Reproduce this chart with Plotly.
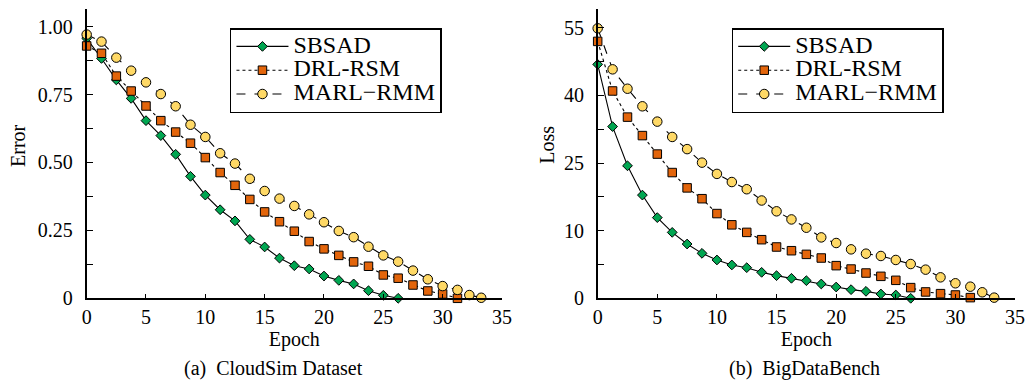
import numpy as np
import plotly.graph_objects as go

# ---------------- data ----------------
EPOCHS = [0, 1.25, 2.5, 3.75, 5, 6.25, 7.5, 8.75, 10, 11.25, 12.5, 13.75, 15, 16.25,
          17.5, 18.75, 20, 21.25, 22.5, 23.75, 25, 26.25, 27.5, 28.75, 30, 31.25, 32.25, 33.25]

SERIES = ["SBSAD", "DRL-RSM", "MARL\u2212RMM"]

SBSAD_ERR = [0.957, 0.883, 0.804, 0.736, 0.654, 0.599, 0.530, 0.449, 0.380, 0.326, 0.285,
             0.217, 0.189, 0.148, 0.120, 0.108, 0.082, 0.066, 0.053, 0.028, 0.011, 0.0]
DRL_ERR = [0.929, 0.902, 0.818, 0.763, 0.708, 0.654, 0.612, 0.571, 0.518, 0.463, 0.416,
           0.364, 0.318, 0.282, 0.247, 0.209, 0.182, 0.158, 0.134, 0.118, 0.086, 0.074,
           0.049, 0.027, 0.016, 0.0]
MARL_ERR = [0.971, 0.945, 0.886, 0.838, 0.795, 0.752, 0.707, 0.639, 0.594, 0.534, 0.496,
            0.440, 0.395, 0.367, 0.340, 0.309, 0.280, 0.248, 0.225, 0.190, 0.158, 0.135,
            0.102, 0.070, 0.045, 0.031, 0.012, 0.002]

SBSAD_LOSS = [46.9, 33.1, 24.4, 17.9, 12.9, 9.75, 8.03, 6.65, 5.67, 4.93, 4.53, 3.84, 3.35,
              2.96, 2.61, 2.12, 1.67, 1.28, 1.03, 0.64, 0.49, 0.0]
DRL_LOSS = [52.0, 41.0, 35.2, 31.1, 27.0, 22.9, 19.5, 17.1, 13.8, 11.3, 9.75, 8.67, 7.59,
            7.04, 6.50, 5.96, 4.83, 4.33, 3.74, 3.25, 2.66, 1.58, 0.94, 0.69, 0.49, 0.1]
MARL_LOSS = [54.9, 45.8, 41.5, 37.6, 34.2, 30.8, 28.1, 25.1, 22.6, 20.8, 19.2, 16.7, 14.3,
             12.5, 10.66, 9.01, 8.18, 7.24, 6.60, 6.26, 5.67, 5.07, 4.24, 3.10, 2.22, 1.72,
             0.89, 0.1]

ERR_TICKS = [0, 0.25, 0.5, 0.75, 1.0]
ERR_TICK_LABELS = ["0", "0.25", "0.50", "0.75", "1.00"]
LOSS_TICKS = [0, 10, 25, 40, 55]          # evenly spaced labels on a piecewise scale
LOSS_TICK_LABELS = ["0", "10", "25", "40", "55"]
X_TICKS = [0, 5, 10, 15, 20, 25, 30, 35]

CAPTIONS = ["(a)\u00a0 CloudSim Dataset", "(b)\u00a0 BigDataBench"]
Y_TITLES = ["Error", "Loss"]
X_TITLE = "Epoch"

# ---------------- styles ----------------
FONT = "Liberation Serif"
COLORS = ["#00A651", "#E3650B", "#FFD966"]
SYMBOLS = ["diamond", "square", "circle"]
SIZES = [7.5, 8.5, 9.5]
DASHES = ["solid", "dot", "dash"]

# piecewise scale for the Loss axis: tick value -> evenly spaced position
LOSS_POS = list(range(len(LOSS_TICKS)))


def loss_scale(v):
    return np.interp(v, LOSS_TICKS, LOSS_POS)


def legend_label(name):
    return "<span style='font-size:24px'>" + name + "</span>"


fig = go.Figure()

left = [SBSAD_ERR, DRL_ERR, MARL_ERR]
right = [SBSAD_LOSS, DRL_LOSS, MARL_LOSS]

for i, name in enumerate(SERIES):
    ys = left[i]
    fig.add_trace(go.Scatter(
        x=EPOCHS[:len(ys)], y=ys, name=legend_label(name), mode="lines+markers",
        line=dict(color="black", width=1.1, dash=DASHES[i]),
        marker=dict(symbol=SYMBOLS[i], size=SIZES[i], color=COLORS[i],
                    line=dict(color="black", width=1)),
        cliponaxis=False, xaxis="x", yaxis="y", legend="legend",
    ))
for i, name in enumerate(SERIES):
    ys = right[i]
    fig.add_trace(go.Scatter(
        x=EPOCHS[:len(ys)], y=loss_scale(ys), name=legend_label(name), mode="lines+markers",
        customdata=ys, hovertemplate="%{customdata}",
        line=dict(color="black", width=1.1, dash=DASHES[i]),
        marker=dict(symbol=SYMBOLS[i], size=SIZES[i], color=COLORS[i],
                    line=dict(color="black", width=1)),
        cliponaxis=False, xaxis="x2", yaxis="y2", legend="legend2",
    ))

axis_font = dict(family=FONT, size=20, color="black")
common_x = dict(range=[0, 35], tickvals=X_TICKS, ticks="inside", ticklen=5, tickwidth=1.3,
                tickcolor="black", showline=True, linewidth=1.6, linecolor="black",
                showgrid=False, zeroline=False, tickfont=axis_font, automargin=False,
                title=dict(text=X_TITLE, font=axis_font, standoff=2))
common_y = dict(ticks="inside", ticklen=7, tickwidth=1.3, tickcolor="black",
                showline=True, linewidth=1.6, linecolor="black", showgrid=False,
                zeroline=False, tickfont=axis_font, ticklabelstandoff=8, automargin=False)

legend_common = dict(xanchor="left", yanchor="top", y=0.9267,
                     bordercolor="black", borderwidth=1.5, bgcolor="white",
                     font=dict(family=FONT, size=16, color="black"),
                     itemwidth=52, tracegroupgap=0)

annotations = []
for txt, xc in zip(CAPTIONS, [0.2665, 0.783]):
    annotations.append(dict(text=txt, x=xc, y=0.0366, xref="paper", yref="paper",
                            xanchor="center", yanchor="middle", showarrow=False,
                            font=dict(family=FONT, size=20, color="black")))
for txt, xc in zip(Y_TITLES, [0.0175, 0.5318]):
    annotations.append(dict(text=txt, x=xc, y=0.6204, xref="paper", yref="paper",
                            xanchor="center", yanchor="middle", showarrow=False,
                            textangle=-90, font=dict(family=FONT, size=20, color="black")))

fig.update_layout(
    width=1028, height=382, autosize=False,
    margin=dict(l=0, r=0, t=0, b=0, pad=0, autoexpand=False),
    paper_bgcolor="white", plot_bgcolor="white",
    font=dict(family=FONT, color="black"),
    showlegend=True,
    xaxis=dict(domain=[0.0843, 0.4883], anchor="y", **common_x),
    xaxis2=dict(domain=[0.5814, 0.9874], anchor="y2", **common_x),
    yaxis=dict(domain=[0.2191, 0.9757], anchor="x", range=[0, 1.064],
               tickvals=ERR_TICKS, ticktext=ERR_TICK_LABELS,
               minor=dict(tickvals=[0.125, 0.375, 0.625, 0.875], ticks="inside",
                          ticklen=7, tickwidth=1.3, tickcolor="black"),
               **common_y),
    yaxis2=dict(domain=[0.2191, 0.9757], anchor="x2", range=[0, 4.275],
                tickvals=LOSS_POS, ticktext=LOSS_TICK_LABELS,
                minor=dict(tickvals=[0.5, 1.5, 2.5, 3.5], ticks="inside",
                           ticklen=7, tickwidth=1.3, tickcolor="black"),
                **common_y),
    legend=dict(x=0.2237, **legend_common),
    legend2=dict(x=0.7118, **legend_common),
    annotations=annotations,
)

fig.write_html(
    "out.html",
    config={"displayModeBar": False},
    post_script="document.body.style.margin='0';document.body.style.overflow='hidden';",
)
